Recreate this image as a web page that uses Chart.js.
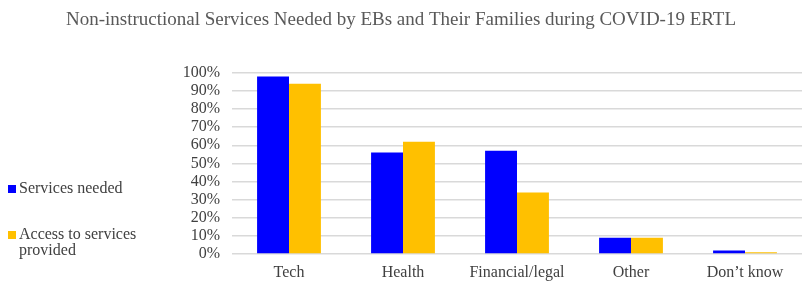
<!DOCTYPE html>
<html>
<head>
<meta charset="utf-8">
<script src="https://cdn.jsdelivr.net/npm/chart.js@4.4.0/dist/chart.umd.min.js"></script>
<style>
  html, body { margin: 0; padding: 0; background: #fff; }
  #wrap { position: relative; width: 802px; height: 281px; }
  #legend { position: absolute; left: 8px; top: 180px; font-family: "Liberation Serif", serif; font-size: 16px; color: #404040; }
  .item { position: relative; padding-left: 11px; width: 150px; line-height: 16px; }
  .item span { position: absolute; left: 0; top: 5px; width: 8px; height: 8px; }
</style>
</head>
<body>
<div id="wrap">
  <canvas id="chart" width="802" height="281"></canvas>
  <div id="legend"></div>
</div>
<script>
// Non-instructional services chart
const categories = ['Tech', 'Health', 'Financial/legal', 'Other', 'Don\u2019t know'];
const servicesNeeded = [98, 56, 57, 9, 2];
const servicesProvided = [94, 62, 34, 9, 1];
const yTicks = [0, 10, 20, 30, 40, 50, 60, 70, 80, 90, 100];

const seriesNames = ['Services needed', 'Access to services provided'];
const seriesColors = ['#0000ff', '#ffc000'];

const serif = '"Liberation Serif", serif';

const ctx = document.getElementById('chart').getContext('2d');
const chart = new Chart(ctx, {
    type: 'bar',
    data: {
        labels: categories,
        datasets: [{
            label: seriesNames[0],
            data: servicesNeeded,
            backgroundColor: seriesColors[0]
        }, {
            label: seriesNames[1],
            data: servicesProvided,
            backgroundColor: seriesColors[1]
        }]
    },
    options: {
        responsive: false,
        animation: false,
        layout: { padding: 0 },
        datasets: {
            bar: { categoryPercentage: 0.56, barPercentage: 1, inflateAmount: 0 }
        },
        plugins: {
            legend: { display: false },
            tooltip: { enabled: false },
            title: {
                display: true,
                text: 'Non-instructional Services Needed by EBs and Their Families during COVID-19 ERTL',
                color: '#595959',
                font: { family: serif, size: 19, weight: 'normal' },
                padding: { top: 9, bottom: 41 }
            }
        },
        scales: {
            x: {
                afterFit: (scale) => { scale.height = 27; },
                grid: { display: false, drawTicks: false },
                border: { display: false },
                ticks: {
                    color: '#404040',
                    padding: 9,
                    font: { family: serif, size: 16 }
                }
            },
            y: {
                min: 0,
                max: 100,
                afterFit: (scale) => { scale.width = 232; },
                afterBuildTicks: (scale) => { scale.ticks = yTicks.map(v => ({ value: v })); },
                grid: { color: '#d9d9d9', lineWidth: 1.5, drawTicks: false },
                border: { display: false },
                ticks: {
                    autoSkip: false,
                    color: '#404040',
                    padding: 12,
                    font: { family: serif, size: 16 },
                    callback: (v) => v + '%'
                }
            }
        }
    }
});

// HTML legend on the left
const legend = document.getElementById('legend');
chart.data.datasets.forEach((ds, i) => {
    const div = document.createElement('div');
    div.className = 'item';
    div.style.marginBottom = i === 0 ? '30px' : '0';
    div.innerHTML = '<span style="background:' + ds.backgroundColor + '"></span>' + ds.label;
    legend.appendChild(div);
});
</script>
</body>
</html>
